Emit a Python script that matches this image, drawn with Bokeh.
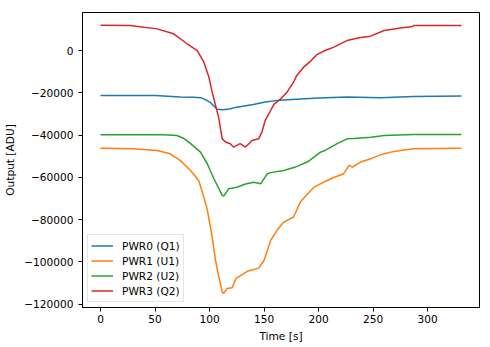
from bokeh.plotting import figure
from bokeh.models import Range1d, FixedTicker, Legend, LegendItem
from bokeh.embed import file_html
from bokeh.resources import INLINE

# ---- data ----
t_pwr0 = [0, 50, 73, 85, 92, 97, 101, 104, 107, 112, 118, 125, 140, 150, 162, 175, 200, 226, 257, 287, 331]
pwr0 = [-21300, -21300, -22000, -22100, -22300, -23500, -24700, -26300, -27800, -28000, -27700, -26800,
        -25600, -24500, -23600, -23200, -22500, -22000, -22300, -21800, -21500]

t_pwr1 = [0, 30, 52, 64, 73, 82.6, 90, 94.8, 97.9, 102.4, 105.5, 108.5, 111.6, 113, 116, 120.8, 124, 134.6,
          145, 150, 156, 162, 168, 177, 183.5, 195.7, 211, 223, 227.8, 231, 238.5, 248, 257, 266, 275, 287, 331]
pwr1 = [-46300, -46500, -47300, -48900, -52000, -56800, -61500, -69400, -75300, -88300, -99300, -107200,
        -114300, -115000, -112700, -112300, -108000, -104500, -103000, -99300, -89900, -85000, -81200,
        -78800, -71500, -64700, -60700, -58300, -54400, -55200, -52800, -51200, -49300, -48100, -47300,
        -46500, -46300]

t_pwr2 = [0, 58, 70, 76, 82.6, 91.7, 97.9, 104, 108.5, 111.6, 113, 117.7, 125, 133, 140.6, 146.8, 153, 156,
          168, 178, 189.6, 195.7, 201.8, 206, 217, 226, 232, 248, 260, 287, 331]
pwr2 = [-39900, -39900, -40200, -41500, -44100, -48100, -53600, -60700, -65400, -68600, -68900, -65400,
        -64700, -63200, -62400, -63100, -58300, -57800, -56800, -55300, -52800, -50500, -48100, -47300,
        -44100, -41800, -41600, -41000, -40200, -39700, -39700]

t_pwr3 = [0, 27, 52, 67, 79.5, 88.7, 94.8, 99.4, 102.4, 105.5, 108.5, 110, 111.6, 115, 119, 122, 128, 133,
          139, 145, 148, 151, 156, 159, 165, 171, 177, 180, 186, 192.7, 198.8, 206, 214, 226, 237, 247.7,
          260, 275, 286, 287, 331]
pwr3 = [12000, 11800, 10250, 7900, 3200, 0, -5500, -12600, -19700, -26000, -32000, -37000, -41800, -43400,
        -44100, -45700, -44100, -45700, -42600, -41800, -38600, -33100, -28400, -25500, -23000, -19700,
        -15000, -11800, -8000, -5000, -1800, 0, 1600, 4700, 6000, 6800, 9500, 10700, 11350, 11800, 11800]

series_names = ["PWR0 (Q1)", "PWR1 (U1)", "PWR2 (U2)", "PWR3 (Q2)"]
series_colors = ["#1f77b4", "#ff7f0e", "#2ca02c", "#d62728"]

x_ticks = [0, 50, 100, 150, 200, 250, 300]
y_ticks = [-120000, -100000, -80000, -60000, -40000, -20000, 0]
y_tick_labels = ["\u2212120000", "\u2212100000", "\u221280000", "\u221260000", "\u221240000", "\u221220000", "0"]

FONT = "DejaVu Sans"
FS = "10.6px"

p = figure(width=490, height=347, output_backend="svg", toolbar_location=None,
           x_range=Range1d(-16.5, 347.5), y_range=Range1d(-121650, 18000),
           min_border_left=82, min_border_right=11, min_border_top=12, min_border_bottom=40)
p.background_fill_color = "white"
p.border_fill_color = "white"
p.outline_line_color = "black"
p.outline_line_width = 1
p.grid.visible = False

renderers = []
for tt, vv, c in zip([t_pwr0, t_pwr1, t_pwr2, t_pwr3], [pwr0, pwr1, pwr2, pwr3], series_colors):
    r = p.line(tt, vv, line_color=c, line_width=1.5)
    renderers.append(r)

for ax in (p.xaxis[0], p.yaxis[0]):
    ax.axis_line_color = "black"
    ax.major_tick_line_color = "black"
    ax.major_tick_out = 4
    ax.major_tick_in = 0
    ax.minor_tick_line_color = None
    ax.major_label_text_font = FONT
    ax.major_label_text_font_size = FS
    ax.major_label_text_color = "black"
    ax.axis_label_text_font = FONT
    ax.axis_label_text_font_size = FS
    ax.axis_label_text_font_style = "normal"
    ax.axis_label_text_color = "black"

p.xaxis.ticker = FixedTicker(ticks=x_ticks)
p.yaxis.ticker = FixedTicker(ticks=y_ticks)
p.yaxis.major_label_overrides = {float(k): v for k, v in zip(y_ticks, y_tick_labels)}
p.yaxis.major_label_overrides.update({k: v for k, v in zip(y_ticks, y_tick_labels)})
p.xaxis.axis_label = "Time [s]"
p.yaxis.axis_label = "Output [ADU]"
p.xaxis.major_label_standoff = 3
p.yaxis.major_label_standoff = 5
p.xaxis.axis_label_standoff = 4
p.yaxis.axis_label_standoff = 5

legend = Legend(items=[LegendItem(label=n, renderers=[r]) for n, r in zip(series_names, renderers)],
                location=(5, 5))
legend.label_text_font = FONT
legend.label_text_font_size = FS
legend.label_text_color = "black"
legend.glyph_width = 22
legend.glyph_height = 15
legend.label_height = 15
legend.label_standoff = 9
legend.spacing = 0
legend.padding = 3
legend.margin = 0
legend.border_line_color = "#cccccc"
legend.border_line_width = 1
legend.background_fill_color = "white"
legend.background_fill_alpha = 0.8
p.add_layout(legend)

open("out.html", "w").write(file_html(p, INLINE))
